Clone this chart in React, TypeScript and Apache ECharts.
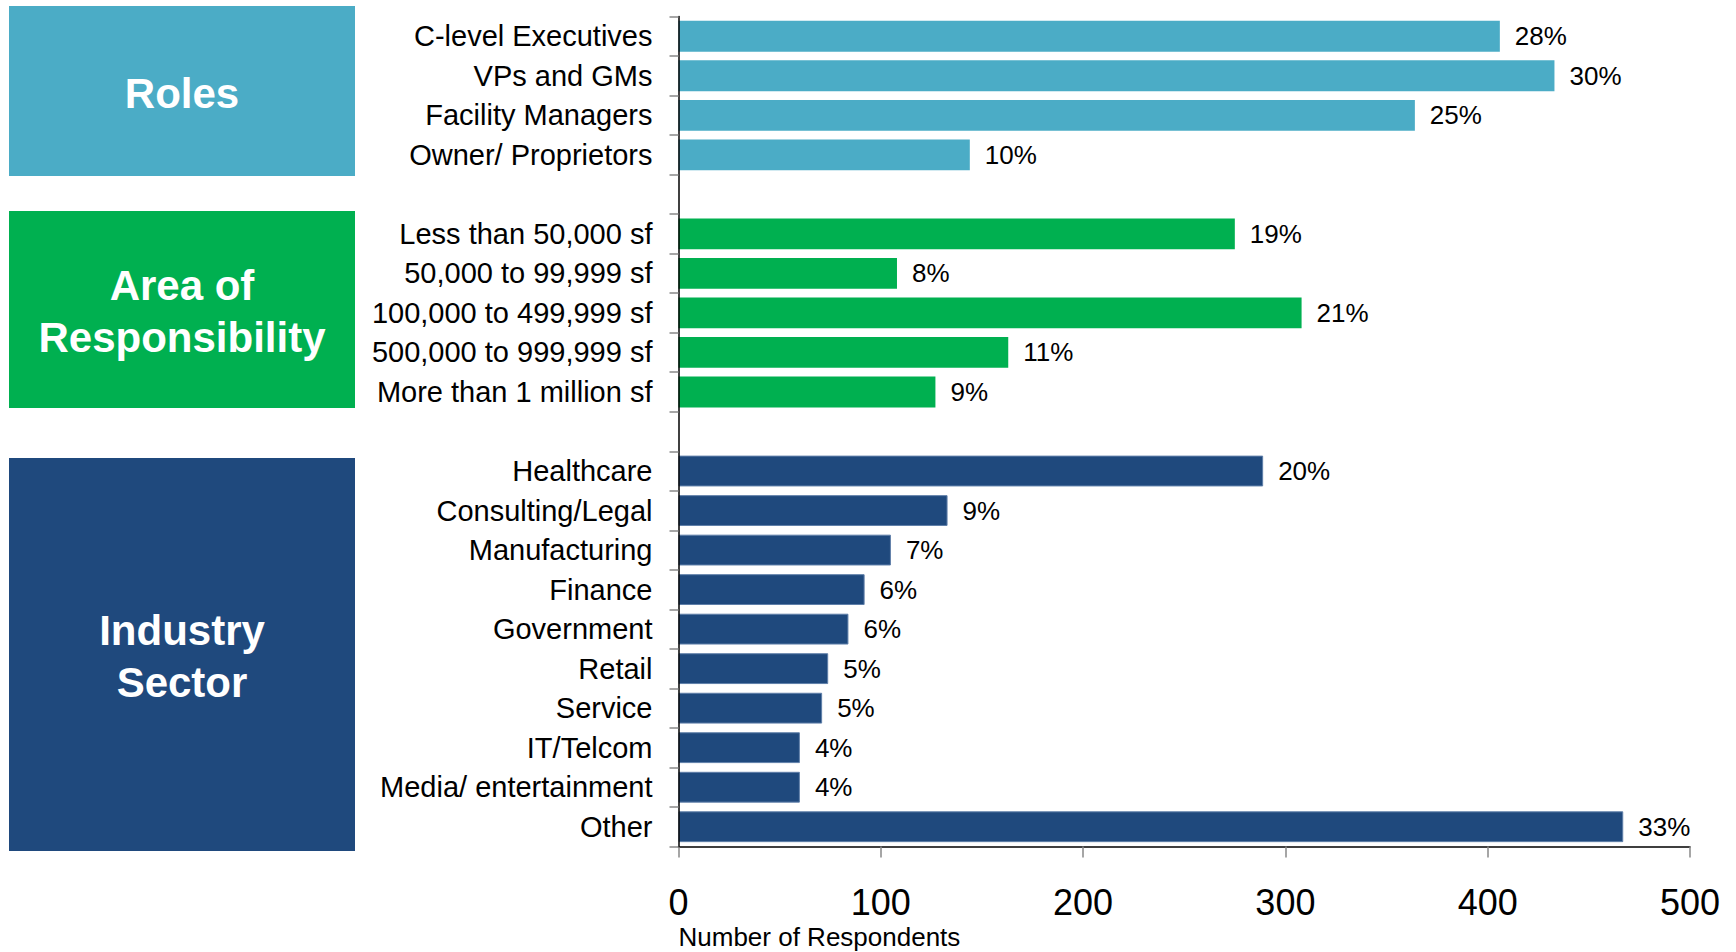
import React, { useEffect, useRef } from "react";
import * as echarts from "echarts";

const roleCategories = ["C-level Executives", "VPs and GMs", "Facility Managers", "Owner/ Proprietors"];
const roleValues = [406, 433, 364, 144];
const rolePercents = ["28%", "30%", "25%", "10%"];

const areaCategories = [
  "Less than 50,000 sf",
  "50,000 to 99,999 sf",
  "100,000 to 499,999 sf",
  "500,000 to 999,999 sf",
  "More than 1 million sf",
];
const areaValues = [275, 108, 308, 163, 127];
const areaPercents = ["19%", "8%", "21%", "11%", "9%"];

const industryCategories = [
  "Healthcare",
  "Consulting/Legal",
  "Manufacturing",
  "Finance",
  "Government",
  "Retail",
  "Service",
  "IT/Telcom",
  "Media/ entertainment",
  "Other",
];
const industryValues = [289, 133, 105, 92, 84, 74, 71, 60, 60, 467];
const industryPercents = ["20%", "9%", "7%", "6%", "6%", "5%", "5%", "4%", "4%", "33%"];

const xTicks = [0, 100, 200, 300, 400, 500];
const axisTitle = "Number of Respondents";
const groupTitles = ["Roles", "Area of\nResponsibility", "Industry\nSector"];
const groupColors = ["#4BACC6", "#00B050", "#1F497D"];

const FONT = "'Liberation Sans', Arial, Helvetica, sans-serif";

export default function App() {
  const ref = useRef<HTMLDivElement>(null);

  useEffect(() => {
    document.body.style.margin = "0";
    if (!ref.current) return;
    const chart = echarts.init(ref.current, undefined, { renderer: "svg" });

    const gap1 = " ";
    const gap2 = "  ";
    const categories = [...roleCategories, gap1, ...areaCategories, gap2, ...industryCategories];
    const n = categories.length;
    const roleStart = 0;
    const areaStart = roleCategories.length + 1;
    const indStart = areaStart + areaCategories.length + 1;

    const makeData = (start: number, vals: number[]) => {
      const arr: (number | null)[] = new Array(n).fill(null);
      vals.forEach((v, i) => (arr[start + i] = v));
      return arr;
    };
    const makeLabels = (start: number, labs: string[]) => {
      const arr: string[] = new Array(n).fill("");
      labs.forEach((v, i) => (arr[start + i] = v));
      return arr;
    };

    const groups = [
      { start: roleStart, vals: roleValues, pcts: rolePercents, color: groupColors[0], border: 0, borderColor: groupColors[0] },
      { start: areaStart, vals: areaValues, pcts: areaPercents, color: groupColors[1], border: 0, borderColor: groupColors[1] },
      { start: indStart, vals: industryValues, pcts: industryPercents, color: groupColors[2], border: 1, borderColor: "#5f7fa9" },
    ];

    const series = groups.map((g) => {
      const labs = makeLabels(g.start, g.pcts);
      return {
        type: "bar",
        data: makeData(g.start, g.vals),
        barWidth: "78%",
        barGap: "-100%",
        itemStyle: { color: g.color, borderWidth: g.border, borderColor: g.borderColor },
        label: {
          show: true,
          position: "right",
          distance: 15,
          color: "#000",
          fontSize: 26,
          fontFamily: FONT,
          formatter: (p: any) => labs[p.dataIndex],
        },
      };
    });

    const boxes = [
      { y: 6, h: 170 },
      { y: 211, h: 197 },
      { y: 458, h: 393 },
    ];

    const graphics: any[] = [];
    boxes.forEach((b, i) => {
      graphics.push({
        type: "rect",
        shape: { x: 9, y: b.y, width: 346, height: b.h },
        style: { fill: groupColors[i] },
        z: 1,
      });
      graphics.push({
        type: "text",
        x: 182,
        y: b.y + b.h / 2 + 2,
        z: 2,
        style: {
          text: groupTitles[i],
          fill: "#fff",
          font: `bold 42px ${FONT}`,
          lineHeight: 52,
          align: "center",
          verticalAlign: "middle",
        },
      });
    });

    chart.setOption({
      animation: false,
      backgroundColor: "#fff",
      grid: {
        left: 678.5,
        right: 46,
        top: 16.5,
        bottom: 105.5,
        containLabel: false,
        outerBoundsMode: "none",
      },
      xAxis: {
        type: "value",
        min: xTicks[0],
        max: xTicks[xTicks.length - 1],
        interval: xTicks[1] - xTicks[0],
        name: axisTitle,
        nameLocation: "start",
        nameGap: 0,
        nameTextStyle: {
          fontSize: 26,
          fontFamily: FONT,
          color: "#000",
          align: "left",
          verticalAlign: "top",
          padding: [77, 0, 0, 0],
        },
        splitLine: { show: false },
        axisLine: { show: true, lineStyle: { color: "#000", width: 1.5 } },
        axisTick: { show: true, length: 11, lineStyle: { color: "#888", width: 1.5 } },
        axisLabel: {
          fontSize: 36,
          lineHeight: 36,
          margin: 38,
          color: "#000",
          fontFamily: FONT,
        },
      },
      yAxis: {
        type: "category",
        data: categories,
        inverse: true,
        z: 3,
        axisLine: { show: true, lineStyle: { color: "#000", width: 1.5 } },
        axisTick: { show: true, length: 9, interval: 0, lineStyle: { color: "#888", width: 1.5 } },
        axisLabel: {
          interval: 0,
          fontSize: 29,
          margin: 26,
          color: "#000",
          fontFamily: FONT,
        },
      },
      series,
      graphic: graphics,
    });

    return () => chart.dispose();
  }, []);

  return (
    <div
      ref={ref}
      style={{ position: "absolute", left: 0, top: 0, width: 1736, height: 952 }}
    />
  );
}
